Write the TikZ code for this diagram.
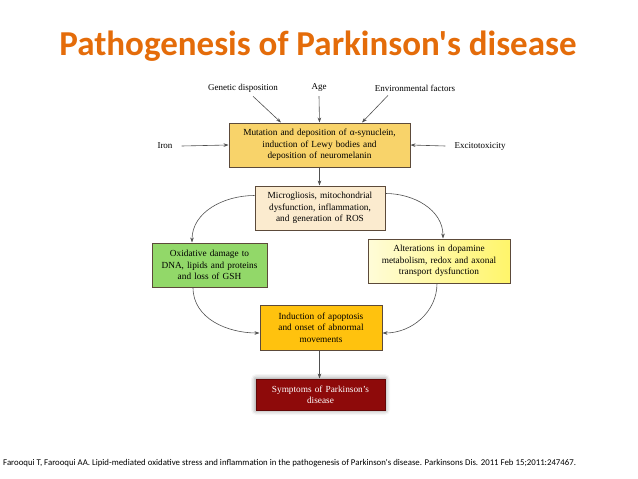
\documentclass[tikz,border=0pt]{standalone}
\usepackage{fontspec}
\setmainfont{Liberation Serif}
\newfontfamily\calibri{Carlito}
\usetikzlibrary{arrows.meta,shadows.blur}
\definecolor{titleorange}{HTML}{E46C0A}
\definecolor{bonefill}{HTML}{F8D36A}
\definecolor{btwofill}{HTML}{FBEBCF}
\definecolor{greenfill}{HTML}{92D869}
\definecolor{yellowL}{HTML}{FFFCD8}
\definecolor{yellowR}{HTML}{FFF56A}
\definecolor{apfill}{HTML}{FFC20E}
\definecolor{symfill}{HTML}{8E0A0A}
\definecolor{boxline}{HTML}{5C4A3A}
\definecolor{arrowgrey}{HTML}{505050}
\begin{document}
\begin{tikzpicture}[x=1pt,y=-1pt,
  box/.style={draw=boxline, line width=1pt, align=center,
    font=\fontsize{9.3}{11.3}\selectfont, inner sep=0pt, minimum height=44pt},
  lab/.style={font=\fontsize{9}{10}\selectfont, inner sep=2pt},
  arr/.style={-{Stealth[length=5pt,width=3.6pt]}, draw=arrowgrey, line width=0.6pt}]
\useasboundingbox (0,0) rectangle (638,479);
\node[font=\calibri\bfseries\fontsize{35}{40}\selectfont, text=titleorange] (title) at (318,46) {Pathogenesis of Parkinson's disease};
\node[lab] (gen) at (243,88) {Genetic disposition};
\node[lab] (age) at (319,88) {Age};
\node[lab] (env) at (415,88) {Environmental factors};
\node[lab] (iron) at (165,146) {Iron};
\node[lab] (exc) at (480,146) {Excitotoxicity};
\node[box, fill=bonefill, text width=181pt] (b1) at (319.5,145) {Mutation and deposition of α-synuclein,\\induction of Lewy bodies and\\deposition of neuromelanin};
\node[box, fill=btwofill, text width=130pt] (b2) at (320,208) {Microgliosis, mitochondrial\\dysfunction, inflammation,\\and generation of ROS};
\node[box, fill=greenfill, text width=115pt] (gr) at (209.5,265) {Oxidative damage to\\DNA, lipids and proteins\\and loss of GSH};
\node[box, left color=yellowL, right color=yellowR, text width=142pt] (ye) at (439,261) {Alterations in dopamine\\metabolism, redox and axonal\\transport dysfunction};
\node[box, fill=apfill, text width=122pt, minimum height=45pt] (ap) at (321,327.5) {Induction of apoptosis\\and onset of abnormal\\movements};
\node[box, fill=symfill, draw=symfill!70!black, text=white, text width=129pt, minimum height=31pt,
  blur shadow={shadow xshift=0pt, shadow yshift=0pt, shadow blur radius=5pt, shadow opacity=55}] (sy) at (320.5,394.5) {Symptoms of Parkinson’s\\disease};
\node[anchor=west, font=\calibri\fontsize{8.8}{10}\selectfont, inner sep=0pt] (cite) at (3,463) {Farooqui T, Farooqui AA. Lipid-mediated oxidative stress and inflammation in the pathogenesis of Parkinson's disease. Parkinsons Dis. 2011 Feb 15;2011:247467.};
% arrows
\draw[arr] ([xshift=10pt,yshift=-2pt]gen.south) -- ([xshift=-38.5pt]b1.north);
\draw[arr] ([yshift=-2pt]age.south) -- (b1.north);
\draw[arr] ([xshift=-27pt,yshift=-2pt]env.south) -- ([xshift=42.5pt]b1.north);
\draw[arr] ([xshift=7pt]iron.east) -- (b1.west);
\draw[arr] ([xshift=-7pt]exc.west) -- (b1.east);
\draw[arr] (b1.south) -- (b2.north -| b1.south);
\draw[arr] ([yshift=-10pt]b2.north west) to[out=180,in=90] ([xshift=-17.5pt]gr.north);
\draw[arr] ([yshift=-8pt]b2.north east) to[out=0,in=90] ([xshift=4pt]ye.north);
\draw[arr] ([xshift=-16.5pt]gr.south) to[out=-90,in=180] ([yshift=-5.5pt]ap.west);
\draw[arr] ([xshift=-2pt]ye.south) to[out=-90,in=0] ([yshift=-5.5pt]ap.east);
\draw[arr] (ap.south -| b1.south) -- (sy.north -| b1.south);
\end{tikzpicture}
\end{document}
